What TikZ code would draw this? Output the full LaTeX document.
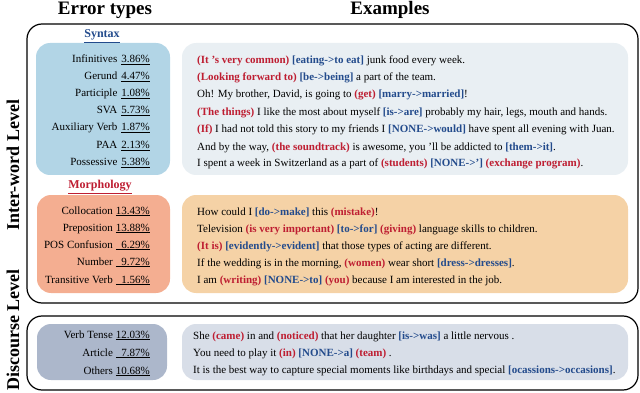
\documentclass[tikz,border=0pt]{standalone}
\usepackage{fontspec}
\setmainfont{Liberation Serif}
\definecolor{syntaxbg}{RGB}{178,213,230}
\definecolor{syntaxex}{RGB}{233,239,243}
\definecolor{morphbg}{RGB}{244,174,145}
\definecolor{morphex}{RGB}{245,210,166}
\definecolor{discbg}{RGB}{172,183,203}
\definecolor{discex}{RGB}{216,222,232}
\definecolor{redtxt}{RGB}{190,30,50}
\definecolor{bluetxt}{RGB}{35,75,140}
\newlength\pcw
\AtBeginDocument{\settowidth{\pcw}{\fontsize{11}{13}\selectfont 13.43\%}}
\newcommand\er[1]{\textcolor{redtxt}{\textbf{#1}}}
\newcommand\eb[1]{\textcolor{bluetxt}{\textbf{#1}}}
\newcommand\pcu[1]{\underline{\makebox[\pcw][r]{#1}}}
\begin{document}
\begin{tikzpicture}[x=1pt,y=-1pt,
  levelbox/.style={draw=black, line width=1.2pt, rounded corners=15pt, inner sep=0pt},
  fillbox/.style={rounded corners=14pt, inner sep=0pt, draw=none},
  title/.style={font=\fontsize{19}{22}\selectfont\bfseries, inner sep=0pt, anchor=base},
  vlabel/.style={font=\fontsize{18}{21}\selectfont\bfseries, rotate=90, inner sep=0pt},
  head/.style={font=\fontsize{12}{14}\selectfont\bfseries, inner sep=0pt, anchor=base},
  row/.style={font=\fontsize{11}{13}\selectfont, inner sep=0pt, anchor=base east},
  ex/.style={font=\fontsize{11}{13}\selectfont, inner sep=0pt, anchor=base west}]
\useasboundingbox (0,0) rectangle (640,393);

% titles
\node[title] (t1) at (105,15) {Error types};
\node[title] (t2) at (390,15) {Examples};

% level frames
\node[levelbox, minimum width=611pt, minimum height=279pt] (inter) at (332.5,163.5) {};
\node[levelbox, minimum width=611pt, minimum height=74pt] (disc) at (332.5,353) {};
\node[vlabel] (vl1) at (13,165) {Inter-word Level};
\node[vlabel] (vl2) at (13,330) {Discourse Level};

% fill boxes
\node[fillbox, fill=syntaxbg, minimum width=134pt, minimum height=132pt] (synbox) at (103,109) {};
\node[fillbox, fill=syntaxex, minimum width=446pt, minimum height=132pt] (synex) at (405,109) {};
\node[fillbox, fill=morphbg, minimum width=133pt, minimum height=98pt] (morbox) at (103.5,244) {};
\node[fillbox, fill=morphex, minimum width=446pt, minimum height=98pt] (morex) at (405,244) {};
\node[fillbox, fill=discbg, minimum width=130pt, minimum height=56pt] (disbox) at (102,352) {};
\node[fillbox, fill=discex, minimum width=446pt, minimum height=56pt] (disex) at (405,352) {};

% headers
\node[head, text=bluetxt] (hsyn) at (102,38) {\underline{Syntax}};
\node[head, text=redtxt] (hmor) at (100,189) {\underline{Morphology}};

% syntax rows
\node[row] (r1) at (150,63) {Infinitives\hspace{4pt}\underline{3.86\%}};
\node[row] (r2) at (150,80) {Gerund\hspace{4pt}\underline{4.47\%}};
\node[row] (r3) at (150,97) {Participle\hspace{4pt}\underline{1.08\%}};
\node[row] (r4) at (150,114) {SVA\hspace{4pt}\underline{5.73\%}};
\node[row] (r5) at (150,131) {Auxiliary Verb\hspace{4pt}\underline{1.87\%}};
\node[row] (r6) at (150,148.5) {PAA\hspace{4pt}\underline{2.13\%}};
\node[row] (r7) at (150,166) {Possessive\hspace{4pt}\underline{5.38\%}};

% syntax examples
\node[ex] (s1) at (197,64) {\er{(It 's very common)} \eb{[eating->to eat]} junk food every week.};
\node[ex] (s2) at (197,81) {\er{(Looking forward to)} \eb{[be->being]} a part of the team.};
\node[ex] (s3) at (197,98) {Oh! My brother, David, is going to \er{(get)} \eb{[marry->married]}!};
\node[ex] (s4) at (197,115.5) {\er{(The things)} I like the most about myself \eb{[is->are]} probably my hair, legs, mouth and hands.};
\node[ex] (s5) at (197,132.5) {\er{(If)} I had not told this story to my friends I \eb{[NONE->would]} have spent all evening with Juan.};
\node[ex] (s6) at (197,150) {And by the way, \er{(the soundtrack)} is awesome, you 'll be addicted to \eb{[them->it]}.};
\node[ex] (s7) at (197,167) {I spent a week in Switzerland as a part of \er{(students)} \eb{[NONE->']} \er{(exchange program)}.};

% morphology rows
\node[row] (m1) at (150,214) {Collocation\hspace{3pt}\pcu{13.43\%}};
\node[row] (m2) at (150,231) {Preposition\hspace{3pt}\pcu{13.88\%}};
\node[row] (m3) at (150,248) {POS Confusion\hspace{3pt}\pcu{6.29\%}};
\node[row] (m4) at (150,265) {Number\hspace{3pt}\pcu{9.72\%}};
\node[row] (m5) at (150,283) {Transitive Verb\hspace{3pt}\pcu{1.56\%}};

% morphology examples
\node[ex] (e1) at (197,215) {How could I \eb{[do->make]} this \er{(mistake)}!};
\node[ex] (e2) at (197,232) {Television \er{(is very important)} \eb{[to->for]} \er{(giving)} language skills to children.};
\node[ex] (e3) at (197,249) {\er{(It is)} \eb{[evidently->evident]} that those types of acting are different.};
\node[ex] (e4) at (197,266) {If the wedding is in the morning, \er{(women)} wear short \eb{[dress->dresses]}.};
\node[ex] (e5) at (197,283) {I am \er{(writing)} \eb{[NONE->to]} \er{(you)} because I am interested in the job.};

% discourse rows
\node[row] (d1) at (150,338) {Verb Tense\hspace{3pt}\pcu{12.03\%}};
\node[row] (d2) at (150,356) {Article\hspace{3pt}\pcu{7.87\%}};
\node[row] (d3) at (150,374) {Others\hspace{3pt}\pcu{10.68\%}};

% discourse examples
\node[ex] (x1) at (193,339) {She \er{(came)} in and \er{(noticed)} that her daughter \eb{[is->was]} a little nervous .};
\node[ex] (x2) at (193,356) {You need to play it \er{(in)} \eb{[NONE->a]} \er{(team)} .};
\node[ex] (x3) at (193,373) {It is the best way to capture special moments like birthdays and special \eb{[ocassions->occasions]}.};
\end{tikzpicture}
\end{document}
